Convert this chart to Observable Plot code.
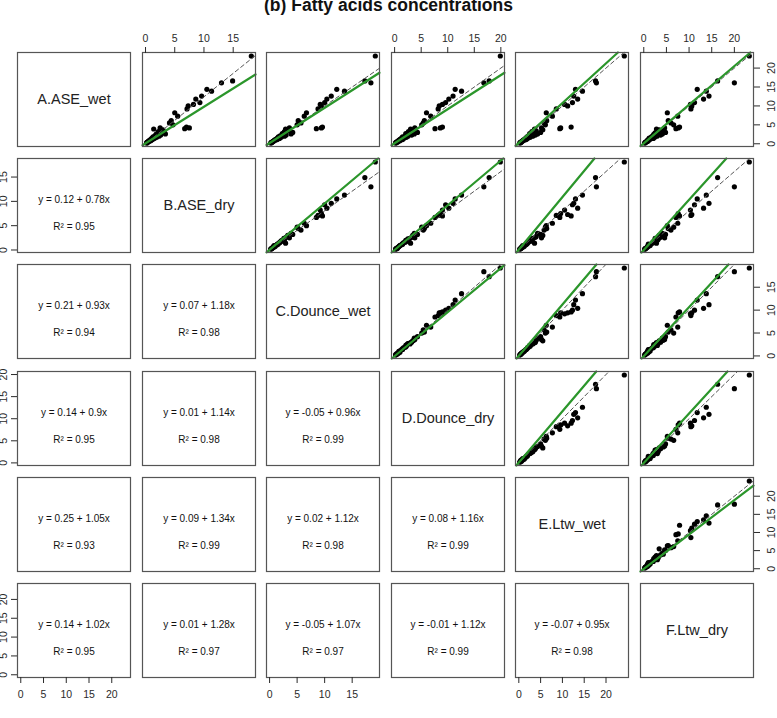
<!DOCTYPE html>
<html><head><meta charset="utf-8">
<script src="https://cdn.jsdelivr.net/npm/d3@7"></script>
<script src="https://cdn.jsdelivr.net/npm/@observablehq/plot@0.6"></script>
<style>
html,body{margin:0;padding:0;background:#fff;}
#chart{position:relative;width:777px;height:718px;overflow:hidden;background:#fff;font-family:"Liberation Sans",Arial,sans-serif;}
#title{position:absolute;left:0;width:777px;top:-4px;line-height:18px;text-align:center;font-weight:bold;font-size:17.5px;color:#111;}
.panel{position:absolute;}
</style></head><body>
<div id="chart"><div id="title">(b) Fatty acids concentrations</div></div>
<script>
// variable names (diagonal labels)
const varNames = ["A.ASE_wet","B.ASE_dry","C.Dounce_wet","D.Dounce_dry","E.Ltw_wet","F.Ltw_dry"];
const A = [23.2,16.6,16.1,14.4,13.9,12.6,11.8,10.9,10.4,10.0,9.2,8.2,5.5,5.0,4.0,4.2,4.4,4.2,3.9,3.7,3.4,3.2,3.0,2.9,2.7,2.5,2.3,2.1,2.0,1.8,1.7,1.5,1.4,1.2,1.1,1.0,0.9,0.8,0.7,0.6,0.5,0.4,0.3,0.3,0.2,2.6,6.1,7.3];
const B = [18.1,14.9,13.0,10.5,11.3,9.6,8.6,9.3,8.2,7.3,7.1,5.0,4.1,4.7,6.7,7.5,7.0,2.5,1.4,3.0,2.8,2.2,3.2,2.4,2.0,1.8,2.6,1.6,2.3,1.3,1.9,1.1,1.5,0.9,1.2,0.8,0.7,0.9,0.5,0.6,0.4,0.3,0.3,0.2,0.2,3.4,4.4,5.5];
const C = [19.2,17.3,18.4,12.2,13.6,11.2,10.4,10.0,9.2,9.4,8.8,6.7,5.7,5.0,8.5,9.4,9.6,3.6,2.9,3.3,3.4,2.7,4.2,2.6,2.3,2.5,3.0,1.9,2.7,1.6,2.1,1.4,1.8,1.1,1.4,0.9,1.0,0.8,0.7,0.6,0.5,0.4,0.3,0.3,0.2,3.9,5.2,6.3];
const D = [19.9,17.8,16.8,11.4,12.6,11.0,10.2,9.6,9.0,8.4,8.2,6.0,5.4,5.1,7.6,8.6,9.0,3.8,3.0,3.4,3.6,2.6,4.3,2.9,2.1,2.3,3.2,2.0,2.5,1.5,2.2,1.3,1.7,1.0,1.5,0.9,0.8,1.0,0.6,0.7,0.4,0.5,0.3,0.2,0.2,3.7,5.6,6.8];
const E = [24.2,17.6,17.8,13.0,14.6,12.6,13.5,12.3,10.5,11.2,8.6,6.3,5.8,6.1,9.4,9.6,12.0,5.2,3.6,5.5,4.0,3.0,5.0,3.2,2.5,2.8,3.8,2.2,3.2,1.9,2.6,1.6,2.0,1.3,1.7,1.0,1.2,0.9,0.8,0.6,0.6,0.4,0.4,0.3,0.2,4.3,6.4,7.7];
const F = [23.3,16.3,20.0,11.8,13.8,14.4,13.2,11.2,10.3,10.6,10.4,5.2,6.0,6.6,7.1,7.6,7.9,4.6,2.8,3.4,4.3,3.2,4.8,2.5,3.0,2.2,3.7,2.0,2.9,1.7,2.4,1.2,2.1,1.4,1.0,1.1,0.8,1.0,0.7,0.8,0.5,0.4,0.3,0.3,0.2,4.1,5.4,7.5];
// axis tick labels per variable
const tickValues = [[0,5,10,15,20],[0,5,10,15],[0,5,10,15],[0,5,10,15,20],[0,5,10,15,20],[0,5,10,15,20]];
// fitted equations shown in the lower panels (row, column are 1-based)
const fitRow = [2,3,3,4,4,4,5,5,5,5,6,6,6,6,6];
const fitCol = [1,1,2,1,2,3,1,2,3,4,1,2,3,4,5];
const fitIntercept = [0.12,0.21,0.07,0.14,0.01,-0.05,0.25,0.09,0.02,0.08,0.14,0.01,-0.05,-0.01,-0.07];
const fitSlope = [0.78,0.93,1.18,0.9,1.14,0.96,1.05,1.34,1.12,1.16,1.02,1.28,1.07,1.12,0.95];
const fitR2 = [0.95,0.94,0.98,0.95,0.98,0.99,0.93,0.99,0.98,0.99,0.95,0.97,0.97,0.99,0.98];
// scale of each variable on which the reference draws its 1:1 and fitted lines
// (in the B.ASE_dry panels the lines sit on a stretched B axis)
const lineScale = [1, 1.24, 1, 1, 1, 1];

const vars = [A,B,C,D,E,F];
const keys = ["A","B","C","D","E","F"];
const rows = A.map((_, k) => Object.fromEntries(keys.map((key, v) => [key, vars[v][k]])));
const n = 6, M = 30, W = 113, H = 94;
const colLeft = j => 17 + 124.5 * j;
const rowTop = i => 52 + 106.2 * i;
const GREEN = "#2b962b", INK = "#2a2a2a", FONT = "'Liberation Sans', Arial, sans-serif";

function dom(v) { const lo = d3.min(v), hi = d3.max(v), r = hi - lo; return [lo - 0.04 * r, hi + 0.04 * r]; }
function seg(a, b, xd, yd) {
  let x0 = xd[0], x1 = xd[1];
  if (b > 0) { x0 = Math.max(x0, (yd[0] - a) / b); x1 = Math.min(x1, (yd[1] - a) / b); }
  return [{x: x0, y: a + b * x0}, {x: x1, y: a + b * x1}];
}
function fitIndex(r, c) { for (let f = 0; f < fitRow.length; f++) if (fitRow[f] === r && fitCol[f] === c) return f; return -1; }

const chart = document.getElementById("chart");
for (let i = 0; i < n; i++) {
  for (let j = 0; j < n; j++) {
    const xd = dom(vars[j]), yd = dom(vars[i]);
    const marks = [];
    if (i === j) {
      marks.push(Plot.text([varNames[i]], {text: d => d, frameAnchor: "middle", fontSize: 14.5, fill: "#222"}));
    } else if (i < j) {
      const f = fitIndex(j + 1, i + 1);
      const sx = lineScale[j], sy = lineScale[i];
      marks.push(Plot.dot(rows, {x: keys[j], y: keys[i], r: 2.6, fill: "#000", stroke: "none"}));
      marks.push(Plot.line(seg(0, sx / sy, xd, yd), {x: "x", y: "y", stroke: "#555", strokeWidth: 1, strokeDasharray: "4,3"}));
      marks.push(Plot.line(seg(fitIntercept[f] / sy, fitSlope[f] * sx / sy, xd, yd), {x: "x", y: "y", stroke: GREEN, strokeWidth: 2.2}));
    } else {
      const f = fitIndex(i + 1, j + 1);
      marks.push(Plot.text([`y = ${fitIntercept[f]} + ${fitSlope[f]}x`], {text: d => d, frameAnchor: "top", dy: 37, fontSize: 10, fill: "#111"}));
      marks.push(Plot.text([`R² = ${fitR2[f]}`], {text: d => d, frameAnchor: "top", dy: 64, fontSize: 10, fill: "#111"}));
    }
    marks.push(Plot.frame({stroke: "#555", strokeWidth: 1.2}));
    const axisOpts = {tickSize: 6, label: null, stroke: INK, fill: INK, fontSize: 10.5};
    if (i === 0 && j % 2 === 1) marks.push(Plot.axisX(tickValues[j], {anchor: "top", tickPadding: 5, ...axisOpts}));
    if (i === n - 1 && j % 2 === 0) marks.push(Plot.axisX(tickValues[j], {anchor: "bottom", tickPadding: 7, ...axisOpts}));
    if (j === 0 && i % 2 === 1) marks.push(Plot.axisY(tickValues[i], {anchor: "left", tickPadding: 5, ...axisOpts, tickRotate: -90, textAnchor: "middle", lineAnchor: "bottom"}));
    if (j === n - 1 && i % 2 === 0) marks.push(Plot.axisY(tickValues[i], {anchor: "right", tickPadding: 8, ...axisOpts, tickRotate: -90, textAnchor: "middle", lineAnchor: "top"}));
    const svg = Plot.plot({
      width: W + 2 * M, height: H + 2 * M, margin: M,
      x: {domain: xd, axis: null},
      y: {domain: yd, axis: null},
      style: {background: "transparent", overflow: "visible", fontFamily: FONT, color: INK},
      marks
    });
    svg.classList.add("panel");
    svg.style.left = (colLeft(j) - M) + "px";
    svg.style.top = (rowTop(i) - M) + "px";
    svg.style.position = "absolute";
    chart.appendChild(svg);
  }
}
</script>
</body></html>
